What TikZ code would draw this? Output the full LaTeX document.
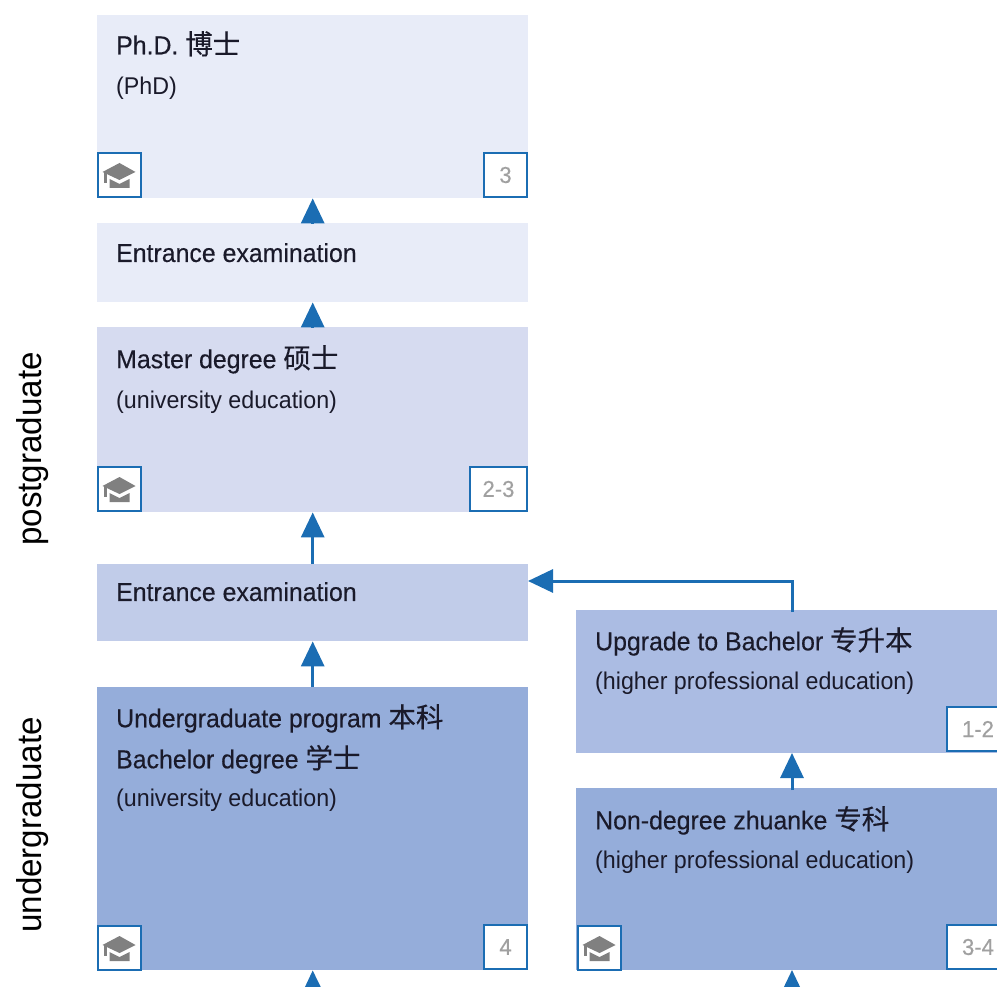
\documentclass[tikz,border=0pt]{standalone}
\usepackage{fontspec}
\usepackage{xcolor}
\usetikzlibrary{arrows.meta,positioning}
\setmainfont[FakeStretch=0.96]{Liberation Sans}
\newfontfamily\titlefont[FakeStretch=0.96,FakeBold=0.35]{Liberation Sans}
\newfontfamily\cjk[FakeBold=0.35,Scale=1.06]{Noto Sans CJK SC}
\newcommand{\smalltextfont}{\normalfont\fontsize{24.2}{30}\selectfont}
\definecolor{flowblue}{HTML}{1B6DB3}
\definecolor{phdfill}{HTML}{E8ECF8}
\definecolor{masterfill}{HTML}{D6DBF0}
\definecolor{examfill}{HTML}{C1CCE9}
\definecolor{upgradefill}{HTML}{ABBCE3}
\definecolor{bachelorfill}{HTML}{95ADDA}
\definecolor{inktext}{HTML}{1A1A2A}
\definecolor{capgray}{HTML}{808080}
\definecolor{yeargray}{HTML}{A0A0A0}

\begin{document}
\begin{tikzpicture}[
x=1pt,y=-1pt,
font=\titlefont\fontsize{25.9}{32}\selectfont,
stagebox/.style={anchor=north west,inner sep=0pt,minimum width=431pt},
sidebox/.style={anchor=north west,inner sep=0pt,minimum width=421pt},
stagetext/.style={anchor=north west,inner sep=0pt,align=left,text=inktext},
iconbox/.style={draw=flowblue,line width=2pt,fill=white,inner sep=0pt,minimum width=43pt,minimum height=44pt},
yearbox/.style={iconbox,anchor=south east,text=yeargray,font=\titlefont\fontsize{23}{28}\selectfont},
oneway/.style={-{Triangle[length=25pt,width=23pt]},draw=flowblue,line width=3pt},
sidelabel/.style={rotate=90,font=\normalfont\fontsize{34.5}{40}\selectfont,text=black,inner sep=0pt},
gradcap/.pic={
    \fill[capgray] (-17,-3) -- (0,-12) -- (16,-3) -- (0,5) -- cycle;
    \fill[capgray] (-10,4) -- (0,9) -- (10,4) -- (10,13) -- (-10,13) -- cycle;
    \fill[capgray] (-16,-3) rectangle (-12.5,8);
}]
    \useasboundingbox (0,0) rectangle (997,987);

    % Draw stages
    \node[stagebox,fill=phdfill,minimum height=183pt] (phd) at (97,15) {};
    \node[stagebox,fill=phdfill,minimum height=79pt] (examphd) at (97,223) {};
    \node[stagebox,fill=masterfill,minimum height=185pt] (master) at (97,327) {};
    \node[stagebox,fill=examfill,minimum height=77pt] (exammaster) at (97,564) {};
    \node[stagebox,fill=bachelorfill,minimum height=283pt] (bachelor) at (97,687) {};
    \node[sidebox,fill=upgradefill,minimum height=143pt] (upgrade) at (576,610) {};
    \node[sidebox,fill=bachelorfill,minimum height=182pt] (zhuanke) at (576,788) {};
    \coordinate (bacheloroff) at (313,1010);
    \coordinate (zhuankeoff) at (792,1010);
    \coordinate (zhuanketip) at (792,970);
    \coordinate (zhuankeout) at (792,790);
    \coordinate (upgradein) at (792,753);
    \coordinate (upgradeout) at (792,612);
    \coordinate (examentry) at (528,581);

    % Texts
    \node[stagetext] (phdtext) at (116,31) {Ph.D. {\cjk 博士}\\[8pt]{\smalltextfont (PhD)}};
    \node[stagetext] (examphdtext) at (116,243) {Entrance examination};
    \node[stagetext] (mastertext) at (116,345) {Master degree {\cjk 硕士}\\[8pt]{\smalltextfont (university education)}};
    \node[stagetext] (exammastertext) at (116,582) {Entrance examination};
    \node[stagetext] (bachelortext) at (116,704) {Undergraduate program {\cjk 本科}\\[9pt]Bachelor degree {\cjk 学士}\\[6pt]{\smalltextfont (university education)}};
    \node[stagetext] (upgradetext) at (595,627) {Upgrade to Bachelor {\cjk 专升本}\\[7pt]{\smalltextfont (higher professional education)}};
    \node[stagetext] (zhuanketext) at (595,806) {Non-degree zhuanke {\cjk 专科}\\[7pt]{\smalltextfont (higher professional education)}};

    % Icons and years
    \node[iconbox] (phdicon) at (119.5,175) {};
    \node[iconbox] (mastericon) at (119.5,489) {};
    \node[iconbox] (bacheloricon) at (119.5,948) {};
    \node[iconbox] (zhuankeicon) at (599.5,948) {};
    \foreach \iconname in {phdicon,mastericon,bacheloricon,zhuankeicon}
        \pic at (\iconname) {gradcap};
    \node[yearbox] (phdyear) at (528,198) {3};
    \node[yearbox,minimum width=57pt] (masteryear) at (528,512) {2-3};
    \node[yearbox] (bacheloryear) at (528,970) {4};
    \node[yearbox,minimum width=62pt] (upgradeyear) at (1010,752) {1-2};
    \node[yearbox,minimum width=62pt] (zhuankeyear) at (1010,970) {3-4};

    % Arrows
    \draw[oneway] (examphd.north) -- (phd.south);
    \draw[oneway] (master.north) -- (examphd.south);
    \draw[oneway] (exammaster.north) -- (master.south);
    \draw[oneway] (bachelor.north) -- (exammaster.south);
    \draw[oneway] (bacheloroff) -- (bachelor.south);
    \draw[oneway] (zhuankeout) -- (upgradein);
    \draw[oneway] (zhuankeoff) -- (zhuanketip);
    \draw[oneway] (upgradeout) |- (examentry);

    % Side labels
    \node[sidelabel] (postlabel) at (32.5,449) {postgraduate};
    \node[sidelabel] (underlabel) at (32.5,825) {undergraduate};
\end{tikzpicture}
\end{document}
